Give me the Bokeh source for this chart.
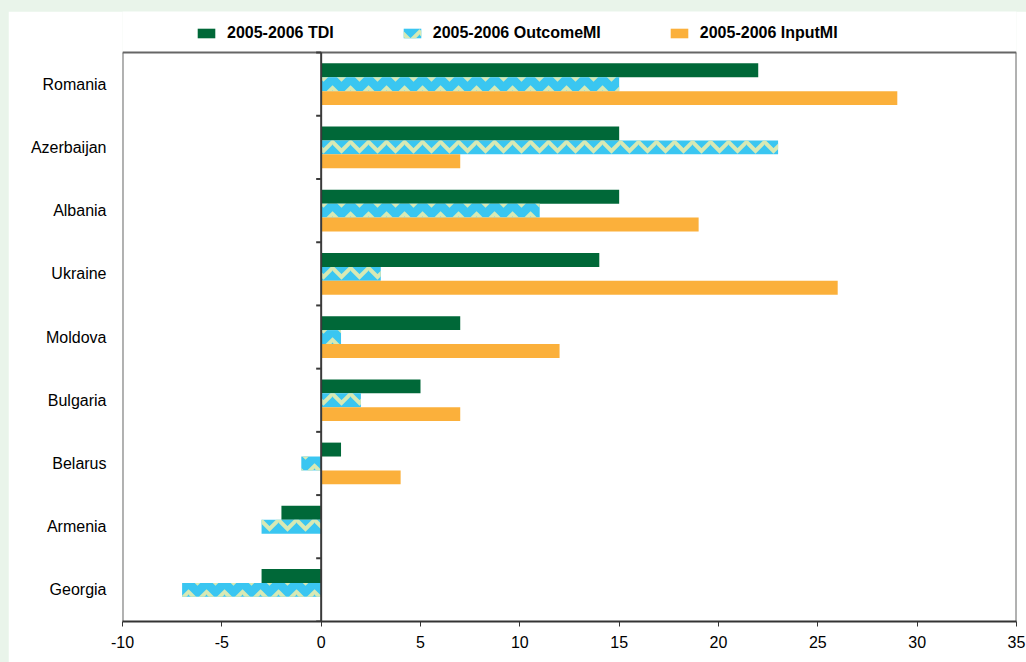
import math
from bokeh.plotting import figure
from bokeh.models import (Range1d, FixedTicker, Legend, LegendItem, ColumnDataSource,
                          GlobalInlineStyleSheet, CustomJSTickFormatter)
from bokeh.transform import dodge
from bokeh.embed import file_html
from bokeh.resources import INLINE

# ---- data ----
categories = ["Romania", "Azerbaijan", "Albania", "Ukraine", "Moldova",
              "Bulgaria", "Belarus", "Armenia", "Georgia"]
tdi = [22, 15, 15, 14, 7, 5, 1, -2, -3]
outcome_mi = [15, 23, 11, 3, 1, 2, -1, -3, -7]
input_mi = [29, 7, 19, 26, 12, 7, 4, 0, 0]
x_ticks = [-10, -5, 0, 5, 10, 15, 20, 25, 30, 35]
series_labels = ["2005-2006 TDI", "2005-2006 OutcomeMI", "2005-2006 InputMI"]

GREEN = "#006838"
BLUE = "#3ac6f1"
PALE = "#d7e9b4"
ORANGE = "#fbb03b"
AXIS = "#3a3a3a"
FONT = "Liberation Sans"

n = len(categories)
ypos = [n - 1 - i for i in range(n)]          # Romania at the top
src = ColumnDataSource(dict(cat=categories, y=ypos, tdi=tdi,
                            outcome=outcome_mi, inp=input_mi))

x_lo, x_hi = x_ticks[0], x_ticks[-1]
y_lo, y_hi = -0.5, n - 0.5          # extent of the plot box
legend_room = 0.65                  # extra space above the box for the legend

p = figure(width=1018, height=651,
           x_range=Range1d(x_lo, x_hi),
           y_range=Range1d(y_lo, y_hi + legend_room),
           output_backend="svg", toolbar_location=None,
           min_border_left=114, min_border_right=10,
           min_border_top=0, min_border_bottom=41)

p.stylesheets = [GlobalInlineStyleSheet(
    css="html, body { background: #e9f4ea !important; } "
        "body { padding: 11px 0 0 8px !important; margin: 0 !important; "
        "box-sizing: border-box !important; overflow: hidden; }")]

bh = 0.22
r1 = p.hbar(y=dodge("y", bh), left=0, right="tdi", height=bh,
            source=src, fill_color=GREEN, line_color=None)
r2 = p.hbar(y="y", left=0, right="outcome", height=bh,
            source=src, fill_color=BLUE, line_color=None,
            hatch_pattern="horizontal_wave", hatch_color=PALE, hatch_scale=18,
            hatch_weight=4, hatch_alpha=1.0)
r3 = p.hbar(y=dodge("y", -bh), left=0, right="inp", height=bh,
            source=src, fill_color=ORANGE, line_color=None)

# plot box (left, right, top) drawn only around the data area
p.segment(x0=[x_lo, x_hi, x_lo], y0=[y_lo, y_lo, y_hi],
          x1=[x_lo, x_hi, x_hi], y1=[y_hi, y_hi, y_hi],
          line_color="#666666", line_width=2)

# zero line acting as the category axis, with ticks between categories
p.segment(x0=[0], y0=[y_lo], x1=[0], y1=[y_hi], line_color=AXIS, line_width=2)
p.ray(x=0, y=dodge("y", -0.5), length=5, length_units="screen",
      angle=math.pi, source=src, line_color=AXIS, line_width=2)
p.ray(x=[0], y=[y_hi], length=5, length_units="screen",
      angle=math.pi, line_color=AXIS, line_width=2)

p.outline_line_color = None
p.xgrid.grid_line_color = None
p.ygrid.grid_line_color = None
p.background_fill_color = "white"
p.border_fill_color = "white"

# x axis
xa = p.xaxis[0]
xa.ticker = FixedTicker(ticks=x_ticks)
xa.formatter = CustomJSTickFormatter(code="return String(tick);")
xa.axis_line_color = "#333333"
xa.axis_line_width = 2
xa.major_tick_line_color = "#333333"
xa.major_tick_in = 0
xa.major_tick_out = 5
xa.minor_tick_line_color = None
xa.major_label_standoff = 9
xa.major_label_text_font = FONT
xa.major_label_text_font_size = "16px"
xa.major_label_text_color = "black"

# y axis (category labels only)
ya = p.yaxis[0]
ya.ticker = FixedTicker(ticks=ypos)
ya.major_label_overrides = {y: c for y, c in zip(ypos, categories)}
ya.axis_line_color = None
ya.major_tick_line_color = None
ya.minor_tick_line_color = None
ya.major_label_standoff = 10
ya.major_label_text_font = FONT
ya.major_label_text_font_size = "16px"
ya.major_label_text_color = "black"

legend = Legend(items=[LegendItem(label=series_labels[0], renderers=[r1]),
                       LegendItem(label=series_labels[1], renderers=[r2]),
                       LegendItem(label=series_labels[2], renderers=[r3])],
                orientation="horizontal", location=(73, 579),
                glyph_width=22, glyph_height=12, label_standoff=10, spacing=67,
                padding=5, margin=0, border_line_color=None, background_fill_alpha=0,
                label_text_font=FONT, label_text_font_size="16px",
                label_text_font_style="bold", label_height=16, label_text_color="black")
p.add_layout(legend, "center")

open("out.html", "w").write(file_html(p, INLINE))
